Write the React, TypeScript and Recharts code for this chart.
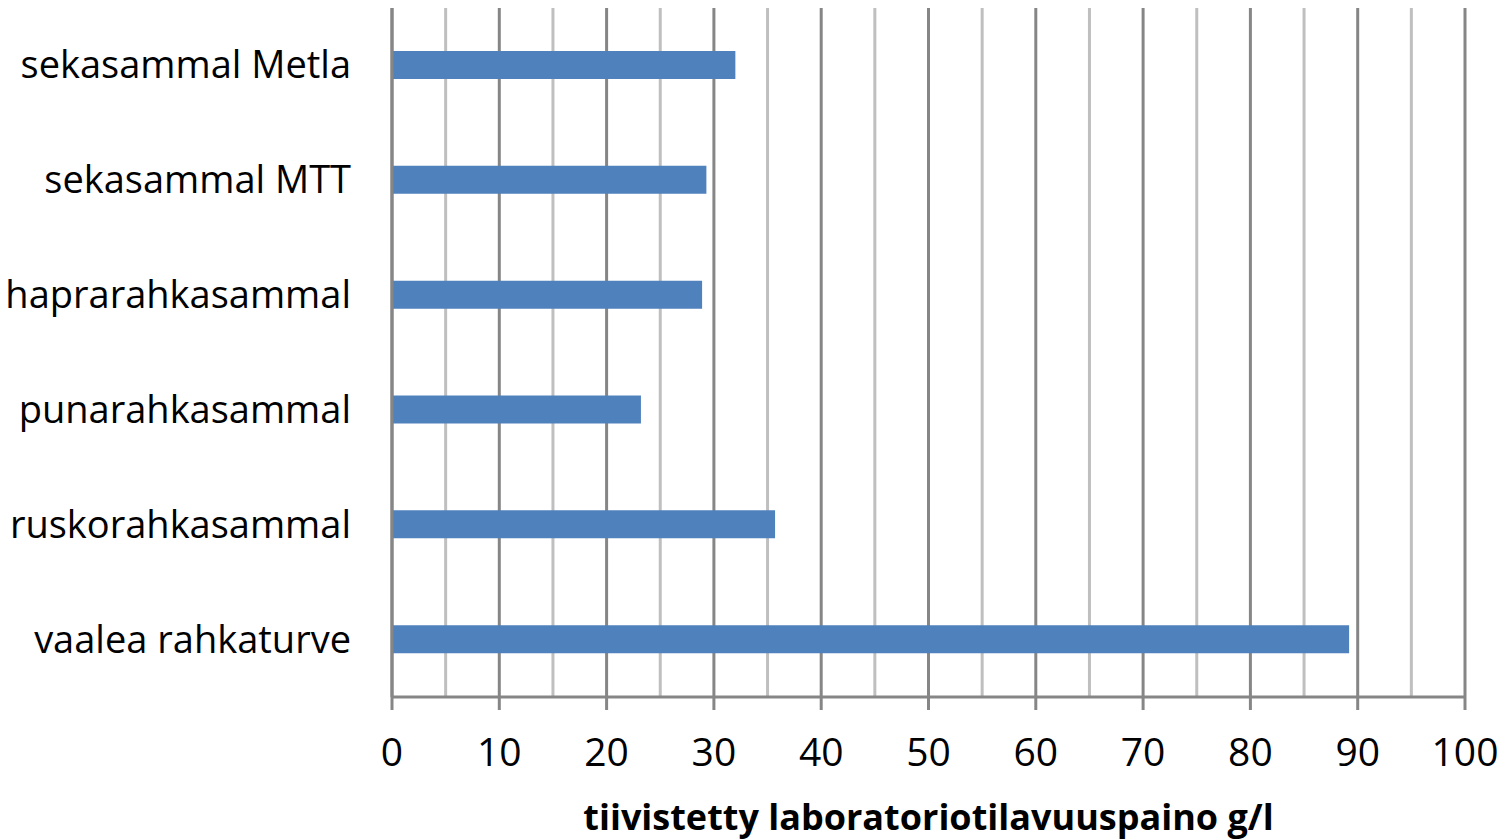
import React from 'react';
import { BarChart, Bar, XAxis, YAxis, CartesianGrid, Label } from 'recharts';

const categories = [
  'sekasammal Metla',
  'sekasammal MTT',
  'haprarahkasammal',
  'punarahkasammal',
  'ruskorahkasammal',
  'vaalea rahkaturve',
];
const values = [32.0, 29.3, 28.9, 23.2, 35.7, 89.2];
const xTicks = [0, 10, 20, 30, 40, 50, 60, 70, 80, 90, 100];
const minorTicks = [5, 15, 25, 35, 45, 55, 65, 75, 85, 95];
const axisTitle = 'tiivistetty laboratoriotilavuuspaino g/l';

const data = categories.map((name, i) => ({ name, value: values[i] }));

const FONT = '"Open Sans", sans-serif';

const YTick = (props: any) => {
  const { x, y, payload } = props;
  return (
    <text x={x} y={y} dy={13} textAnchor="end" fontFamily={FONT} fontSize={38} fill="#000">
      {payload.value}
    </text>
  );
};

const XTick = (props: any) => {
  const { x, y, payload } = props;
  return (
    <text x={x} y={y} dy={54} textAnchor="middle" fontFamily={FONT} fontSize={39} fill="#000">
      {payload.value}
    </text>
  );
};

export default function App() {
  return (
    <div style={{ position: 'absolute', left: 0, top: 0, background: '#fff' }}>
      <BarChart
        width={1508}
        height={840}
        data={data}
        layout="vertical"
        margin={{ top: 8, right: 43, bottom: 0, left: 0 }}
        barCategoryGap={0}
      >
        <CartesianGrid
          horizontal={false}
          vertical
          verticalValues={minorTicks}
          stroke="#bfbfbf"
          strokeWidth={3}
        />
        <CartesianGrid
          horizontal={false}
          vertical
          verticalValues={xTicks}
          stroke="#868686"
          strokeWidth={3}
        />
        <XAxis
          type="number"
          domain={[0, 100]}
          ticks={xTicks}
          interval={0}
          height={143}
          tickSize={13}
          tickLine={{ stroke: '#868686', strokeWidth: 3 }}
          axisLine={{ stroke: '#868686', strokeWidth: 3 }}
          tick={<XTick />}
        >
          <Label
            value={axisTitle}
            position="insideBottom"
            offset={10}
            style={{ fontFamily: FONT, fontSize: 36, fontWeight: 700, fill: '#000' }}
          />
        </XAxis>
        <YAxis
          type="category"
          dataKey="name"
          width={392}
          tickLine={false}
          axisLine={{ stroke: '#868686', strokeWidth: 3 }}
          tick={<YTick />}
          tickMargin={35}
          interval={0}
        />
        <Bar dataKey="value" fill="#4F81BD" barSize={28} isAnimationActive={false} />
      </BarChart>
    </div>
  );
}
